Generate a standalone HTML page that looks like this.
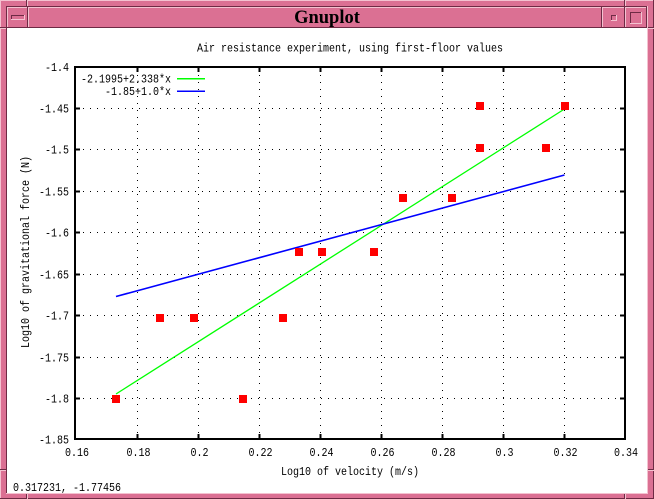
<!DOCTYPE html>
<html><head><meta charset="utf-8"><style>
html,body{margin:0;padding:0;background:#fff;}
svg{display:block;}
text{font-family:"Liberation Mono",monospace;font-size:12px;fill:#000;}
</style></head><body>
<svg width="654" height="499" viewBox="0 0 654 499" xmlns="http://www.w3.org/2000/svg" shape-rendering="crispEdges">
<!-- window frame -->
<rect x="0" y="0" width="654" height="499" fill="#db7093"/>
<rect x="0" y="0" width="654" height="1" fill="#f4c2d0"/>
<rect x="0" y="0" width="1" height="499" fill="#f4c2d0"/>
<rect x="0" y="498" width="654" height="1" fill="#6e2a44"/>
<rect x="653" y="0" width="1" height="499" fill="#6e2a44"/>
<!-- inner sunken edge -->
<rect x="6" y="6" width="641" height="1" fill="#6e2a44"/>
<rect x="6" y="6" width="1" height="487" fill="#6e2a44"/>
<rect x="647" y="6" width="1" height="488" fill="#f4c2d0"/>
<rect x="6" y="493" width="642" height="1" fill="#f4c2d0"/>
<!-- notches -->
<g>
<rect x="0" y="27" width="6" height="1" fill="#6e2a44"/><rect x="0" y="28" width="6" height="1" fill="#f4c2d0"/>
<rect x="648" y="27" width="6" height="1" fill="#6e2a44"/><rect x="648" y="28" width="6" height="1" fill="#f4c2d0"/>
<rect x="0" y="469" width="6" height="1" fill="#6e2a44"/><rect x="0" y="470" width="6" height="1" fill="#f4c2d0"/>
<rect x="648" y="469" width="6" height="1" fill="#6e2a44"/><rect x="648" y="470" width="6" height="1" fill="#f4c2d0"/>
<rect x="26" y="0" width="1" height="6" fill="#6e2a44"/><rect x="27" y="0" width="1" height="6" fill="#f4c2d0"/>
<rect x="624" y="0" width="1" height="6" fill="#6e2a44"/><rect x="625" y="0" width="1" height="6" fill="#f4c2d0"/>
<rect x="26" y="494" width="1" height="5" fill="#6e2a44"/><rect x="27" y="494" width="1" height="5" fill="#f4c2d0"/>
<rect x="624" y="494" width="1" height="5" fill="#6e2a44"/><rect x="625" y="494" width="1" height="5" fill="#f4c2d0"/>
</g>
<!-- title bar pieces -->
<g>
<rect x="7" y="7" width="21" height="21" fill="#db7093"/>
<rect x="7" y="7" width="21" height="1" fill="#f4c2d0"/><rect x="7" y="7" width="1" height="21" fill="#f4c2d0"/>
<rect x="7" y="27" width="21" height="1" fill="#6e2a44"/><rect x="27" y="7" width="1" height="21" fill="#6e2a44"/>
<rect x="11" y="15" width="14" height="5" fill="#db7093" stroke="none"/>
<rect x="11" y="15" width="14" height="1" fill="#6e2a44"/><rect x="11" y="15" width="1" height="5" fill="#6e2a44"/>
<rect x="11" y="19" width="14" height="1" fill="#f4c2d0"/><rect x="24" y="15" width="1" height="5" fill="#f4c2d0"/>

<rect x="28" y="7" width="574" height="21" fill="#db7093"/>
<rect x="28" y="7" width="574" height="1" fill="#f4c2d0"/><rect x="28" y="7" width="1" height="21" fill="#f4c2d0"/>
<rect x="28" y="27" width="574" height="1" fill="#6e2a44"/><rect x="601" y="7" width="1" height="21" fill="#6e2a44"/>

<rect x="602" y="7" width="23" height="21" fill="#db7093"/>
<rect x="602" y="7" width="23" height="1" fill="#f4c2d0"/><rect x="602" y="7" width="1" height="21" fill="#f4c2d0"/>
<rect x="602" y="27" width="23" height="1" fill="#6e2a44"/><rect x="624" y="7" width="1" height="21" fill="#6e2a44"/>
<rect x="611" y="15" width="6" height="1" fill="#6e2a44"/><rect x="611" y="15" width="1" height="6" fill="#6e2a44"/>
<rect x="611" y="20" width="6" height="1" fill="#f4c2d0"/><rect x="616" y="15" width="1" height="6" fill="#f4c2d0"/>

<rect x="625" y="7" width="22" height="21" fill="#db7093"/>
<rect x="625" y="7" width="22" height="1" fill="#f4c2d0"/><rect x="625" y="7" width="1" height="21" fill="#f4c2d0"/>
<rect x="625" y="27" width="22" height="1" fill="#6e2a44"/><rect x="646" y="7" width="1" height="21" fill="#6e2a44"/>
<rect x="630" y="12" width="12" height="1" fill="#6e2a44"/><rect x="630" y="12" width="1" height="12" fill="#6e2a44"/>
<rect x="630" y="23" width="12" height="1" fill="#f4c2d0"/><rect x="641" y="12" width="1" height="12" fill="#f4c2d0"/>
</g>
<text x="327" y="23" text-anchor="middle" style="font-family:'Liberation Serif',serif;font-weight:bold;font-size:18.5px;">Gnuplot</text>
<!-- client area -->
<rect x="7" y="28" width="640" height="465" fill="#ffffff"/>

<!-- grid -->
<g stroke="#000" stroke-width="1" stroke-dasharray="1 6" fill="none">
<line x1="137.5" y1="68" x2="137.5" y2="438"/>
<line x1="198.5" y1="68" x2="198.5" y2="438"/>
<line x1="259.5" y1="68" x2="259.5" y2="438"/>
<line x1="320.5" y1="68" x2="320.5" y2="438"/>
<line x1="381.5" y1="68" x2="381.5" y2="438"/>
<line x1="442.5" y1="68" x2="442.5" y2="438"/>
<line x1="503.5" y1="68" x2="503.5" y2="438"/>
<line x1="564.5" y1="68" x2="564.5" y2="438"/>
<line x1="76" y1="108.5" x2="624" y2="108.5"/>
<line x1="76" y1="149.5" x2="624" y2="149.5"/>
<line x1="76" y1="191.5" x2="624" y2="191.5"/>
<line x1="76" y1="232.5" x2="624" y2="232.5"/>
<line x1="76" y1="274.5" x2="624" y2="274.5"/>
<line x1="76" y1="315.5" x2="624" y2="315.5"/>
<line x1="76" y1="357.5" x2="624" y2="357.5"/>
<line x1="76" y1="398.5" x2="624" y2="398.5"/>
</g>
<!-- ticks -->
<g stroke="#000" stroke-width="2">
<line x1="137.5" y1="67" x2="137.5" y2="72"/><line x1="137.5" y1="439" x2="137.5" y2="434"/>
<line x1="198.5" y1="67" x2="198.5" y2="72"/><line x1="198.5" y1="439" x2="198.5" y2="434"/>
<line x1="259.5" y1="67" x2="259.5" y2="72"/><line x1="259.5" y1="439" x2="259.5" y2="434"/>
<line x1="320.5" y1="67" x2="320.5" y2="72"/><line x1="320.5" y1="439" x2="320.5" y2="434"/>
<line x1="381.5" y1="67" x2="381.5" y2="72"/><line x1="381.5" y1="439" x2="381.5" y2="434"/>
<line x1="442.5" y1="67" x2="442.5" y2="72"/><line x1="442.5" y1="439" x2="442.5" y2="434"/>
<line x1="503.5" y1="67" x2="503.5" y2="72"/><line x1="503.5" y1="439" x2="503.5" y2="434"/>
<line x1="564.5" y1="67" x2="564.5" y2="72"/><line x1="564.5" y1="439" x2="564.5" y2="434"/>
<line x1="75" y1="108.5" x2="80" y2="108.5"/><line x1="625" y1="108.5" x2="620" y2="108.5"/>
<line x1="75" y1="149.5" x2="80" y2="149.5"/><line x1="625" y1="149.5" x2="620" y2="149.5"/>
<line x1="75" y1="191.5" x2="80" y2="191.5"/><line x1="625" y1="191.5" x2="620" y2="191.5"/>
<line x1="75" y1="232.5" x2="80" y2="232.5"/><line x1="625" y1="232.5" x2="620" y2="232.5"/>
<line x1="75" y1="274.5" x2="80" y2="274.5"/><line x1="625" y1="274.5" x2="620" y2="274.5"/>
<line x1="75" y1="315.5" x2="80" y2="315.5"/><line x1="625" y1="315.5" x2="620" y2="315.5"/>
<line x1="75" y1="357.5" x2="80" y2="357.5"/><line x1="625" y1="357.5" x2="620" y2="357.5"/>
<line x1="75" y1="398.5" x2="80" y2="398.5"/><line x1="625" y1="398.5" x2="620" y2="398.5"/>
</g>
<!-- border -->
<rect x="75" y="67" width="550" height="372" fill="none" stroke="#000" stroke-width="2"/>

<!-- fit lines -->
<g shape-rendering="auto">
<line x1="116" y1="394" x2="564.5" y2="109" stroke="#00ff00" stroke-width="1.3"/>
<line x1="116" y1="296.5" x2="564.5" y2="175" stroke="#0000ff" stroke-width="1.6"/>
</g>
<!-- data points -->
<g fill="#ff0000">
<rect x="112" y="395" width="8" height="8"/>
<rect x="156" y="314" width="8" height="8"/>
<rect x="190" y="314" width="8" height="8"/>
<rect x="239" y="395" width="8" height="8"/>
<rect x="279" y="314" width="8" height="8"/>
<rect x="295" y="248" width="8" height="8"/>
<rect x="318" y="248" width="8" height="8"/>
<rect x="370" y="248" width="8" height="8"/>
<rect x="399" y="194" width="8" height="8"/>
<rect x="448" y="194" width="8" height="8"/>
<rect x="476" y="102" width="8" height="8"/>
<rect x="476" y="144" width="8" height="8"/>
<rect x="542" y="144" width="8" height="8"/>
<rect x="561" y="102" width="8" height="8"/>
</g>

<!-- legend -->
<text x="171" y="82.5" text-anchor="end" textLength="90" lengthAdjust="spacingAndGlyphs">-2.1995+2.338*x</text>
<text x="171" y="95" text-anchor="end" textLength="66" lengthAdjust="spacingAndGlyphs">-1.85+1.0*x</text>
<rect x="177" y="78" width="28" height="1.3" fill="#00ff00"/>
<rect x="177" y="90.5" width="28" height="1.5" fill="#0000ff"/>

<!-- title -->
<text x="350" y="51.5" text-anchor="middle" textLength="306" lengthAdjust="spacingAndGlyphs">Air resistance experiment, using first-floor values</text>

<!-- y tick labels -->
<g text-anchor="end">
<text x="69" y="71" textLength="24" lengthAdjust="spacingAndGlyphs">-1.4</text>
<text x="69" y="112.5" textLength="30" lengthAdjust="spacingAndGlyphs">-1.45</text>
<text x="69" y="153.5" textLength="24" lengthAdjust="spacingAndGlyphs">-1.5</text>
<text x="69" y="195.5" textLength="30" lengthAdjust="spacingAndGlyphs">-1.55</text>
<text x="69" y="236.5" textLength="24" lengthAdjust="spacingAndGlyphs">-1.6</text>
<text x="69" y="278.5" textLength="30" lengthAdjust="spacingAndGlyphs">-1.65</text>
<text x="69" y="319.5" textLength="24" lengthAdjust="spacingAndGlyphs">-1.7</text>
<text x="69" y="361.5" textLength="30" lengthAdjust="spacingAndGlyphs">-1.75</text>
<text x="69" y="402.5" textLength="24" lengthAdjust="spacingAndGlyphs">-1.8</text>
<text x="69" y="443.5" textLength="30" lengthAdjust="spacingAndGlyphs">-1.85</text>
</g>
<!-- x tick labels -->
<g text-anchor="middle">
<text x="77" y="456" textLength="24" lengthAdjust="spacingAndGlyphs">0.16</text>
<text x="138.5" y="456" textLength="24" lengthAdjust="spacingAndGlyphs">0.18</text>
<text x="199.5" y="456" textLength="18" lengthAdjust="spacingAndGlyphs">0.2</text>
<text x="260.5" y="456" textLength="24" lengthAdjust="spacingAndGlyphs">0.22</text>
<text x="321.5" y="456" textLength="24" lengthAdjust="spacingAndGlyphs">0.24</text>
<text x="382.5" y="456" textLength="24" lengthAdjust="spacingAndGlyphs">0.26</text>
<text x="443.5" y="456" textLength="24" lengthAdjust="spacingAndGlyphs">0.28</text>
<text x="504.5" y="456" textLength="18" lengthAdjust="spacingAndGlyphs">0.3</text>
<text x="565.5" y="456" textLength="24" lengthAdjust="spacingAndGlyphs">0.32</text>
<text x="626" y="456" textLength="24" lengthAdjust="spacingAndGlyphs">0.34</text>
</g>
<!-- axis labels -->
<text x="350" y="475" text-anchor="middle" textLength="138" lengthAdjust="spacingAndGlyphs">Log10 of velocity (m/s)</text>
<text transform="translate(29,252) rotate(-90)" x="0" y="0" text-anchor="middle" textLength="192" lengthAdjust="spacingAndGlyphs">Log10 of gravitational force (N)</text>
<!-- status -->
<text x="13" y="491" textLength="108" lengthAdjust="spacingAndGlyphs">0.317231, -1.77456</text>
</svg>
</body></html>
